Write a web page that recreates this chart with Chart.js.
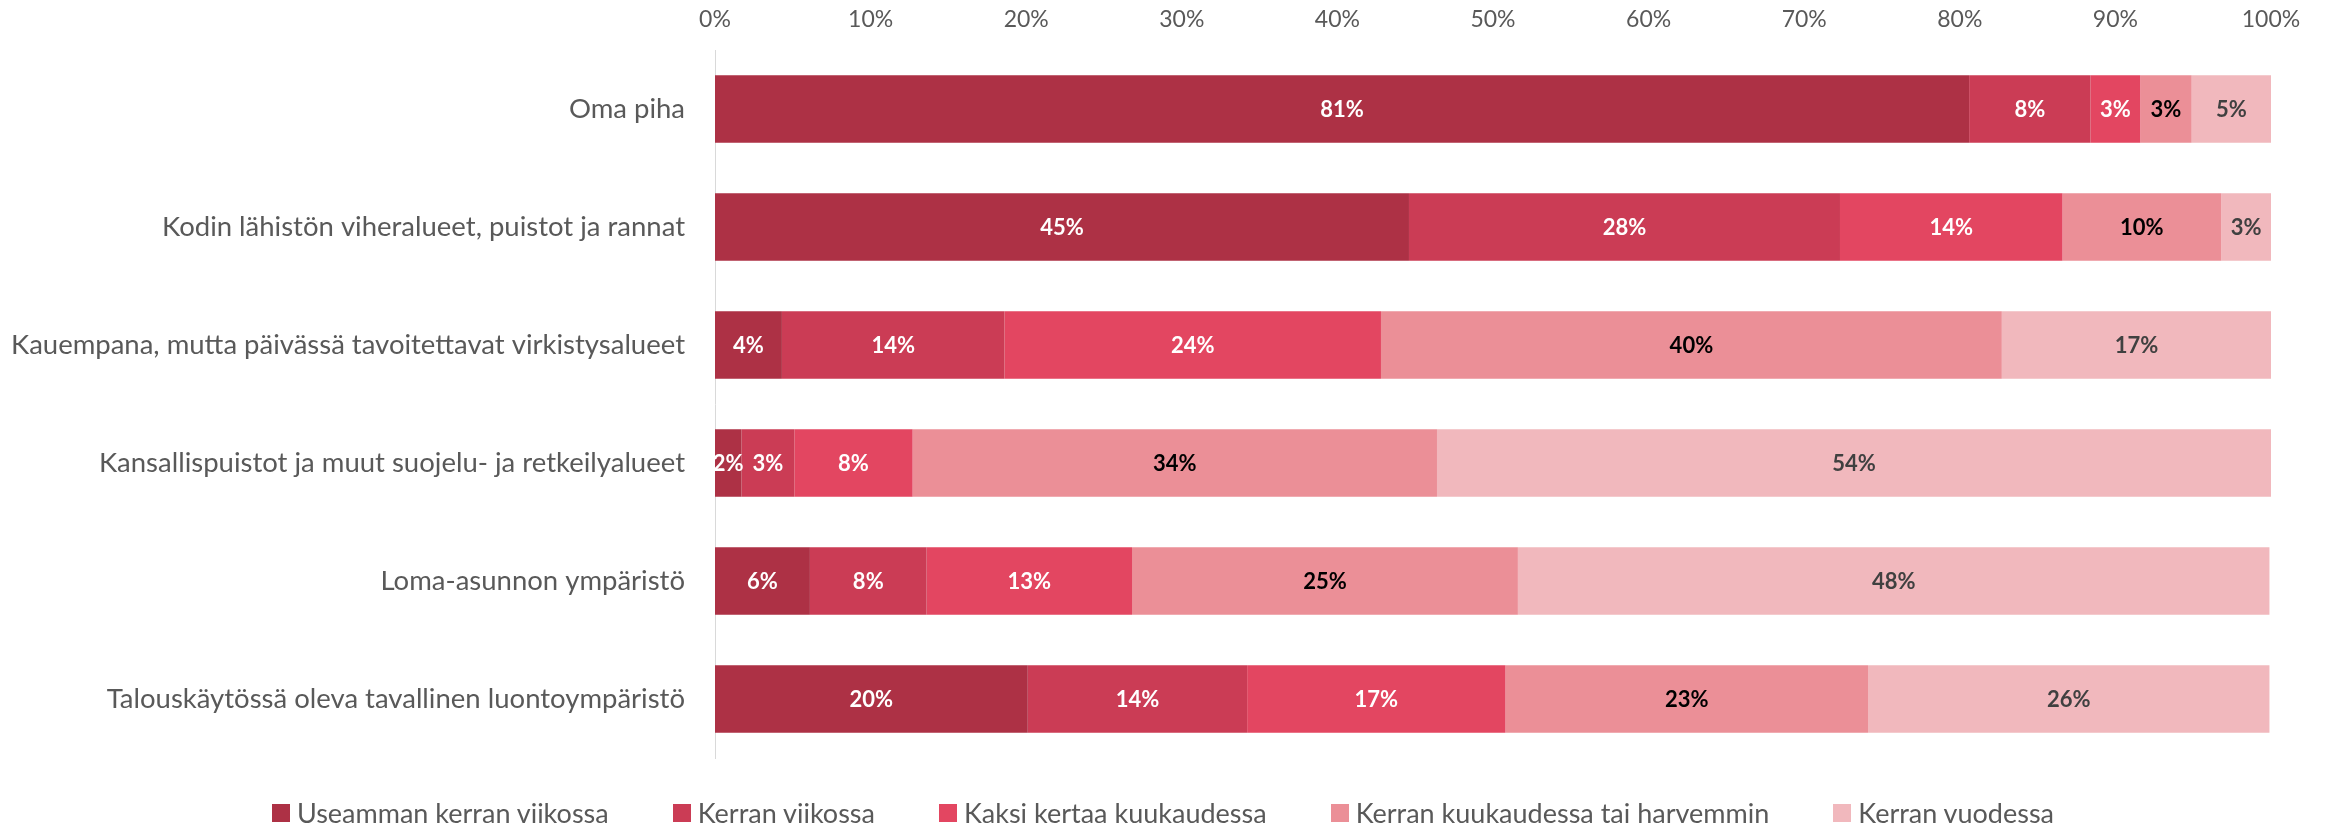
<!DOCTYPE html>
<html lang="fi">
<head>
    <meta charset="UTF-8">
    <title>Luontoympäristöjen käyttö</title>
    <script src="https://cdn.jsdelivr.net/npm/chart.js"></script>
    <style>
        html, body {
            margin: 0;
            padding: 0;
            background: #ffffff;
            font-family: 'Lato', sans-serif;
        }
        .wrap {
            position: relative;
            width: 2326px;
            height: 828px;
        }
        #legend {
            position: absolute;
            left: 0;
            top: 799px;
            width: 2326px;
            display: flex;
            justify-content: center;
            gap: 64px;
            font-size: 27px;
            line-height: 28px;
            color: #595959;
        }
        #legend .item {
            display: flex;
            align-items: center;
        }
        #legend .box {
            width: 18px;
            height: 18px;
            margin-right: 7px;
        }
    </style>
</head>
<body>
    <div class="wrap">
        <canvas id="chart" width="2326" height="828"></canvas>
        <div id="legend"></div>
    </div>

    <script>
        // Kategoriat (y-akseli)
        var categories = [
            'Oma piha',
            'Kodin lähistön viheralueet, puistot ja rannat',
            'Kauempana, mutta päivässä tavoitettavat virkistysalueet',
            'Kansallispuistot ja muut suojelu- ja retkeilyalueet',
            'Loma-asunnon ympäristö',
            'Talouskäytössä oleva tavallinen luontoympäristö'
        ];

        // Sarjat (%)
        var useammanKerranViikossa = [80.6, 44.6, 4.3, 1.7, 6.1, 20.1];
        var kerranViikossa = [7.8, 27.7, 14.3, 3.4, 7.5, 14.1];
        var kaksiKertaaKuukaudessa = [3.2, 14.3, 24.2, 7.6, 13.2, 16.6];
        var kerranKuukaudessaTaiHarvemmin = [3.3, 10.2, 39.9, 33.7, 24.8, 23.3];
        var kerranVuodessa = [5.1, 3.2, 17.3, 53.6, 48.3, 25.8];

        var seriesNames = [
            'Useamman kerran viikossa',
            'Kerran viikossa',
            'Kaksi kertaa kuukaudessa',
            'Kerran kuukaudessa tai harvemmin',
            'Kerran vuodessa'
        ];

        // x-akselin tikit
        var tickValues = [0, 10, 20, 30, 40, 50, 60, 70, 80, 90, 100];

        var colors = ['#AD3145', '#CB3C55', '#E34661', '#EB8F97', '#F1B8BD'];
        var labelColors = ['#ffffff', '#ffffff', '#ffffff', '#000000', '#404040'];

        var seriesData = [
            useammanKerranViikossa,
            kerranViikossa,
            kaksiKertaaKuukaudessa,
            kerranKuukaudessaTaiHarvemmin,
            kerranVuodessa
        ];

        var datasets = seriesData.map(function (d, i) {
            return {
                label: seriesNames[i],
                data: d,
                backgroundColor: colors[i],
                borderWidth: 0,
                barPercentage: 0.57,
                categoryPercentage: 1.0
            };
        });

        // Arvotekstit palkkien keskelle
        var valueLabels = {
            id: 'valueLabels',
            afterDatasetsDraw: function (chart) {
                var ctx = chart.ctx;
                ctx.save();
                ctx.font = 'bold 22px Lato';
                ctx.textAlign = 'center';
                ctx.textBaseline = 'middle';
                chart.data.datasets.forEach(function (ds, i) {
                    var meta = chart.getDatasetMeta(i);
                    meta.data.forEach(function (bar, j) {
                        var v = ds.data[j];
                        if (!v) return;
                        ctx.fillStyle = labelColors[i];
                        ctx.fillText(Math.round(v) + '%', (bar.x + bar.base) / 2, bar.y + 1);
                    });
                });
                ctx.restore();
            }
        };

        var chart = new Chart(document.getElementById('chart').getContext('2d'), {
            type: 'bar',
            data: {
                labels: categories,
                datasets: datasets
            },
            options: {
                indexAxis: 'y',
                responsive: false,
                animation: false,
                layout: {
                    padding: { left: 0, right: 55, top: 0, bottom: 70 }
                },
                plugins: {
                    legend: { display: false },
                    tooltip: { enabled: false }
                },
                scales: {
                    x: {
                        position: 'top',
                        stacked: true,
                        min: 0,
                        max: 100,
                        afterBuildTicks: function (scale) {
                            scale.ticks = tickValues.map(function (v) { return { value: v }; });
                        },
                        afterFit: function (scale) {
                            scale.height = 50;
                        },
                        grid: { display: false, drawTicks: false },
                        border: { display: false },
                        ticks: {
                            padding: 17,
                            color: '#595959',
                            font: { family: 'Lato', size: 23 },
                            callback: function (v) { return v + '%'; }
                        }
                    },
                    y: {
                        stacked: true,
                        afterFit: function (scale) {
                            scale.width = 715;
                        },
                        grid: { display: false, drawTicks: false },
                        border: { display: true, color: '#D9D9D9', width: 1 },
                        ticks: {
                            padding: 30,
                            color: '#595959',
                            font: { family: 'Lato', size: 27.5 }
                        }
                    }
                }
            },
            plugins: [valueLabels]
        });

        // Selite
        var legendEl = document.getElementById('legend');
        seriesNames.forEach(function (name, i) {
            var item = document.createElement('div');
            item.className = 'item';
            var box = document.createElement('span');
            box.className = 'box';
            box.style.background = colors[i];
            var txt = document.createElement('span');
            txt.textContent = name;
            item.appendChild(box);
            item.appendChild(txt);
            legendEl.appendChild(item);
        });
    </script>
</body>
</html>
